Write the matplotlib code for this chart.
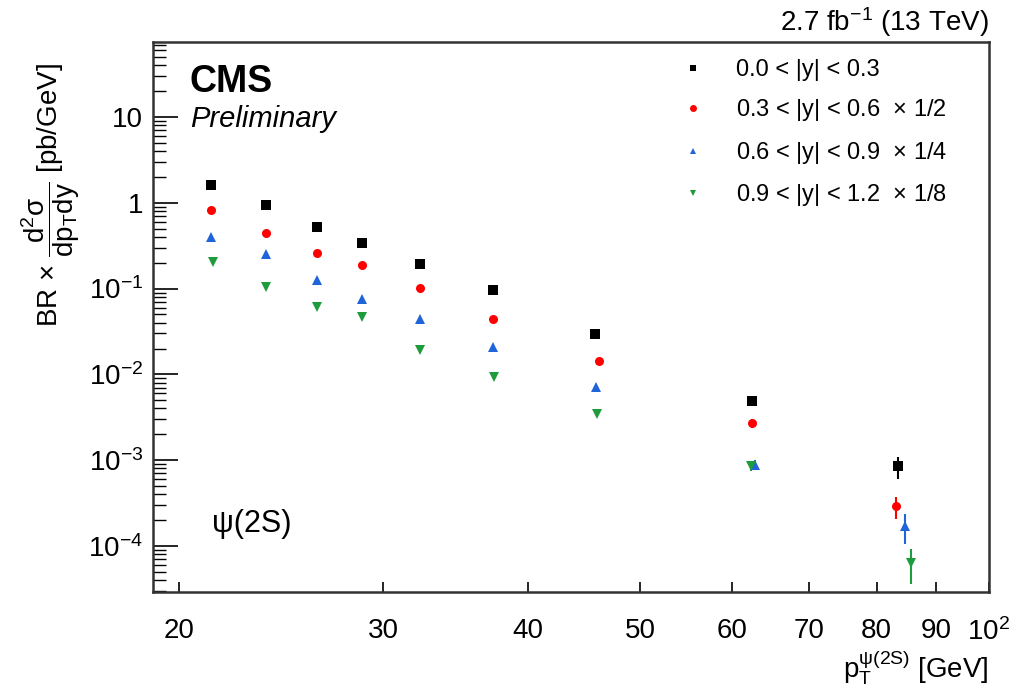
import numpy as np
import matplotlib.pyplot as plt
from matplotlib.lines import Line2D
from matplotlib.ticker import FixedLocator, NullFormatter

plt.rcParams['font.family'] = ['Liberation Sans', 'DejaVu Sans']
plt.rcParams['mathtext.fontset'] = 'custom'
plt.rcParams['mathtext.rm'] = 'Liberation Sans'
plt.rcParams['mathtext.it'] = 'Liberation Sans:italic'
plt.rcParams['mathtext.bf'] = 'Liberation Sans:bold'

# pT bin centres (GeV) per rapidity bin
pt_y0 = [21.3, 23.8, 26.3, 28.8, 32.3, 37.3, 45.7, 62.4, 83.4]
pt_y1 = [21.3, 23.8, 26.3, 28.8, 32.3, 37.3, 46.1, 62.5, 83.2]
pt_y2 = [21.3, 23.8, 26.3, 28.8, 32.3, 37.3, 45.8, 62.8, 84.6]
pt_y3 = [21.4, 23.8, 26.3, 28.8, 32.3, 37.4, 45.9, 62.3, 85.7]

# BR x d2sigma/dpT dy [pb/GeV] (already scaled)
xs_y0 = [1.61, 0.943, 0.520, 0.344, 0.195, 0.0974, 0.0295, 0.00485, 8.45e-4]
xs_y1 = [0.818, 0.443, 0.257, 0.188, 0.102, 0.0445, 0.0145, 0.00269, 2.9e-4]
xs_y2 = [0.401, 0.250, 0.127, 0.0760, 0.0440, 0.0207, 0.00716, 8.8e-4, 1.70e-4]
xs_y3 = [0.202, 0.105, 0.0618, 0.0461, 0.0191, 0.00928, 0.00345, 8.6e-4, 6.4e-5]

err_y0 = [0, 0, 0, 0, 0, 0, 0.0008, 0.00045, 2.5e-4]
err_y1 = [0, 0, 0, 0, 0, 0, 0.0005, 0.0003, 0.85e-4]
err_y2 = [0, 0, 0, 0, 0, 0, 0.0002, 1.2e-4, 0.65e-4]
err_y3 = [0, 0, 0, 0, 0, 0, 0.0001, 1.2e-4, 2.8e-5]

labels = ['0.0 < |y| < 0.3',
          '0.3 < |y| < 0.6  $\\times$ 1/2',
          '0.6 < |y| < 0.9  $\\times$ 1/4',
          '0.9 < |y| < 1.2  $\\times$ 1/8']

xt = [20, 30, 40, 50, 60, 70, 80, 90, 100]
xt_labels = ['20', '30', '40', '50', '60', '70', '80', '90', '$10^{2}$']
yt = [1e-4, 1e-3, 1e-2, 1e-1, 1, 10]
yt_labels = ['$10^{-4}$', '$10^{-3}$', '$10^{-2}$', '$10^{-1}$', '1', '10']

fig = plt.figure(figsize=(10.2, 6.96), dpi=100)
ax = fig.add_axes([0.15, 0.1494, 0.8196, 0.7903])

series = [
    (pt_y0, xs_y0, err_y0, 's', 'black'),
    (pt_y1, xs_y1, err_y1, 'o', '#ff0000'),
    (pt_y2, xs_y2, err_y2, '^', '#1f64d8'),
    (pt_y3, xs_y3, err_y3, 'v', '#1e9c3c'),
]
handles = []
for x, y, e, m, c in series:
    ax.errorbar(x, y, yerr=e, fmt=m, color=c, ms=6.5, mew=0,
                elinewidth=1.5, capsize=3, capthick=1.5)
    handles.append(Line2D([], [], ls='none', marker=m, color=c, ms=5, mew=0))

ax.set_xscale('log')
ax.set_yscale('log')
ax.set_xlim(19.0, 100)
ax.set_ylim(2.9e-5, 75)

ax.xaxis.set_major_locator(FixedLocator(xt))
ax.xaxis.set_minor_locator(FixedLocator([]))
ax.xaxis.set_minor_formatter(NullFormatter())
ax.set_xticklabels(xt_labels)

ymin = [m * 10.0**k for k in range(-5, 2) for m in range(2, 10)]
ymin = [v for v in ymin if 2.9e-5 < v < 75]
ax.yaxis.set_major_locator(FixedLocator(yt))
ax.set_yticklabels(yt_labels)
ax.yaxis.set_minor_locator(FixedLocator(ymin))
ax.yaxis.set_minor_formatter(NullFormatter())

ax.tick_params(axis='x', which='major', direction='in', length=7, width=1.2,
               labelsize=20, pad=19, top=False)
ax.tick_params(axis='y', which='major', direction='in', length=18, width=1.2,
               labelsize=20, pad=7, right=False)
ax.tick_params(axis='y', which='minor', direction='in', length=9, width=1.0, right=False)
for s in ax.spines.values():
    s.set_linewidth(1.8)
    s.set_color('#333333')

ax.legend(handles, labels, loc='upper left', bbox_to_anchor=(0.615, 0.995),
          frameon=False, fontsize=17, handletextpad=1.3, labelspacing=0.7,
          handlelength=1.0, borderaxespad=0.2)

fig.text(0.186, 0.868, 'CMS', fontsize=27, fontweight='bold')
fig.text(0.186, 0.818, 'Preliminary', fontsize=21, style='italic')
fig.text(0.208, 0.235, 'ψ(2S)', fontsize=22)
fig.text(0.969, 0.955, '2.7 fb$^{-1}$ (13 TeV)', fontsize=20, ha='right')
fig.text(0.969, 0.026, r'p$_{\mathrm{T}}^{\mathrm{ψ(2S)}}$ [GeV]', fontsize=20,
         ha='right', va='baseline')
fig.text(0.05, 0.72,
         r'BR $\times$ $\dfrac{\mathrm{d}^{2}\mathrm{σ}}{\mathrm{dp}_{\mathrm{T}}\mathrm{dy}}$ [pb/GeV]',
         fontsize=20, rotation=90, ha='center', va='center')

fig.savefig('out.png', dpi=100)
